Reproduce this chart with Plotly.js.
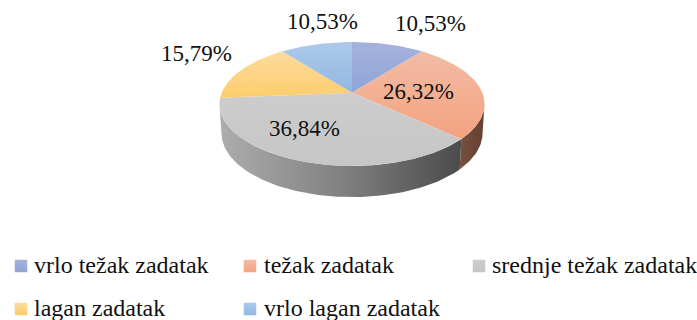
<!DOCTYPE html>
<html><head><meta charset="utf-8">
<script src="https://cdn.plot.ly/plotly-3.0.1.min.js"></script>
<style>html,body{margin:0;padding:0;background:#fff}#c{width:697px;height:320px}</style></head>
<body><div id="c"></div>
<script>
const categories = ["vrlo težak zadatak","težak zadatak","srednje težak zadatak","lagan zadatak","vrlo lagan zadatak"];
const values = [10.53,26.32,36.84,15.79,10.53];
const labels = ["10,53%","26,32%","36,84%","15,79%","10,53%"];

const W=697,H=320, cx=352, cy=92.7, B=130.3, A=59.9, k=0.182;
const topGrad=[["#a6b2dd","#8da5d8"],["#f2bca6","#f4a27f"],["#cdcdcd","#c6c6c6"],["#fddb9f","#fdcd6c"],["#adc9e9","#92b8e3"]];
const labelPos=[[430.5,23],[418,91],[304,128],[196,53],[322,21]];
const legendPos=[[21,266],[250,266],[479,266],[21,309],[250,309]];
const legendTextX=[33,263,491,33,263];
const DEPTH=29, LOW=1.03, LOWX=0.985;

function pt(deg){const t=deg*Math.PI/180,d=1+k*Math.cos(t);return [Math.sin(t)/d,Math.cos(t)/d];}
function arc(a,b){const n=Math.max(2,Math.ceil(Math.abs(b-a))),o=[];for(let i=0;i<=n;i++)o.push(pt(a+(b-a)*i/n));return o;}
const total=values.reduce((s,v)=>s+v,0);
let acc=0; const bounds=[0];
values.forEach(v=>{acc+=v;bounds.push(acc/total*360);});

function wall(a,b,grad,name){
  const up=arc(a,b), low=arc(b,a).map(p=>[p[0]*LOWX,p[1]*LOW-DEPTH/A]);
  const all=up.concat(low); all.push(up[0]);
  return {type:"scatter",mode:"lines",x:all.map(p=>p[0]),y:all.map(p=>p[1]),fill:"toself",
    line:{width:0},hoverinfo:"skip",showlegend:false,fillgradient:grad,name};
}
const vis0=Math.acos(-k)*180/Math.PI, vis1=360-vis0;
const traces=[
  wall(vis0,bounds[2],{type:"horizontal",colorscale:[[0,"#775040"],[1,"#64402f"]]},"bok 2"),
  wall(bounds[2],vis1,{type:"horizontal",colorscale:[[0,"#adadad"],[0.5,"#818181"],[1,"#4b4b4b"]]},"bok 3")
];
values.forEach((v,i)=>{
  const a=arc(bounds[i],bounds[i+1]); const pts=[[0,0]].concat(a,[[0,0]]);
  traces.push({type:"scatter",mode:"lines",x:pts.map(p=>p[0]),y:pts.map(p=>p[1]),fill:"toself",
    line:{width:0},hoverinfo:"skip",showlegend:false,name:categories[i],
    fillgradient:{type:"vertical",colorscale:[[0,topGrad[i][1]],[1,topGrad[i][0]]]}});
});
categories.forEach((c,i)=>{
  traces.push({type:"scatter",mode:"markers",xaxis:"x2",yaxis:"y2",x:[legendPos[i][0]],y:[legendPos[i][1]],
    hoverinfo:"skip",showlegend:false,name:c,
    marker:{symbol:"square",size:12.5,color:topGrad[i][0],line:{width:0},gradient:{type:"vertical",color:topGrad[i][1]}}});
});
const serif="Liberation Serif";
const labelFont={family:serif,size:23,color:"#111"};
const legendFont={family:serif,size:24,color:"#111"};
const ann=[];
labels.forEach((t,i)=>ann.push({text:t,xref:"paper",yref:"paper",x:labelPos[i][0]/W,y:1-labelPos[i][1]/H,
  xanchor:"center",yanchor:"middle",showarrow:false,font:labelFont,borderpad:0}));
categories.forEach((c,i)=>ann.push({text:c,xref:"paper",yref:"paper",x:legendTextX[i]/W,y:1-(legendPos[i][1]-1)/H,
  xanchor:"left",yanchor:"middle",showarrow:false,font:legendFont,borderpad:0}));
const layout={width:W,height:H,margin:{l:0,r:0,t:0,b:0},paper_bgcolor:"#fff",plot_bgcolor:"#fff",showlegend:false,
  font:{family:serif},
  xaxis:{visible:false,range:[-cx/B,(W-cx)/B],fixedrange:true},
  yaxis:{visible:false,range:[(cy-H)/A,cy/A],fixedrange:true},
  xaxis2:{visible:false,overlaying:"x",range:[0,W],fixedrange:true},
  yaxis2:{visible:false,overlaying:"y",range:[H,0],fixedrange:true},
  annotations:ann};
Plotly.newPlot("c",traces,layout,{displayModeBar:false,staticPlot:true});
</script></body></html>
